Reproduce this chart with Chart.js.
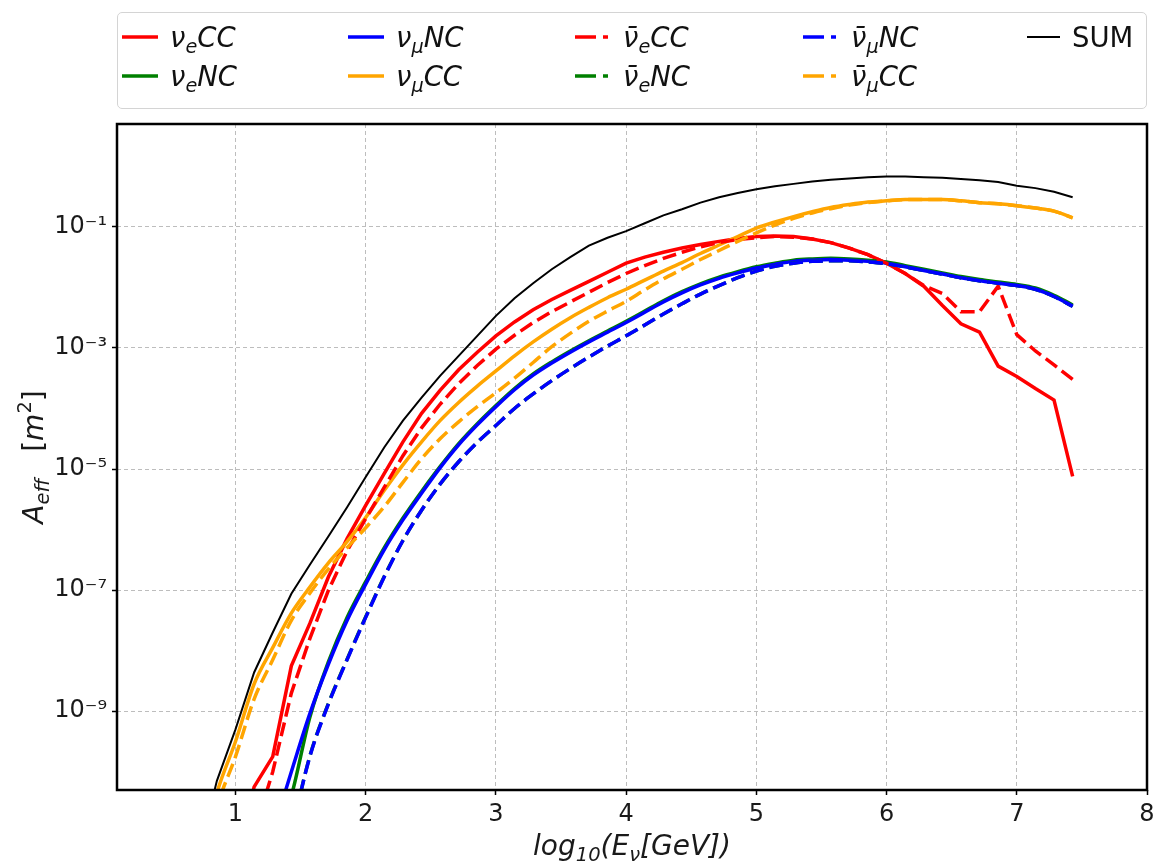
<!DOCTYPE html>
<html>
<head>
<meta charset="utf-8">
<script src="https://cdn.jsdelivr.net/npm/chart.js@4.4.0/dist/chart.umd.min.js"></script>
<style>
  body { margin: 0; background: #fff; font-family: 'DejaVu Sans', sans-serif; }
  #wrap { position: relative; width: 1153px; height: 863px; }
  #legendBox { position: absolute; left: 117px; top: 12px; width: 1030px; height: 97px;
    box-sizing: border-box; border: 1.5px solid #d4d4d4; border-radius: 5px; }
  .item { position: absolute; display: flex; align-items: center; height: 34px;
    font-size: 27.5px; color: #111; white-space: nowrap; }
  .item svg { margin-right: 12px; }
  .math { font-style: italic; }
  .math .s { font-size: 0.7em; position: relative; top: 0.32em; }
</style>
</head>
<body>
<div id="wrap">
  <canvas id="aeff" width="1153" height="863"></canvas>
  <div id="legendBox"></div>
</div>
<script>
// log10(E_nu / GeV) sample points
const logE = [0.714, 0.857, 1.000, 1.143, 1.286, 1.429, 1.571, 1.714, 1.857, 2.000,
  2.143, 2.286, 2.429, 2.571, 2.714, 2.857, 3.000, 3.143, 3.286, 3.429,
  3.571, 3.714, 3.857, 4.000, 4.143, 4.286, 4.429, 4.571, 4.714, 4.857,
  5.000, 5.143, 5.286, 5.429, 5.571, 5.714, 5.857, 6.000, 6.143, 6.286,
  6.429, 6.571, 6.714, 6.857, 7.000, 7.143, 7.286, 7.429];

// log10(A_eff / m^2) per channel
const nueCC = [null, null, -11.5, -10.25, -9.75, -8.25, -7.55, -6.78, -6.15, -5.60,
  -5.07, -4.55, -4.08, -3.70, -3.36, -3.07, -2.80, -2.57, -2.37, -2.20,
  -2.05, -1.90, -1.75, -1.60, -1.50, -1.42, -1.35, -1.29, -1.24, -1.19,
  -1.16, -1.15, -1.16, -1.20, -1.26, -1.35, -1.46, -1.60, -1.77, -1.98,
  -2.30, -2.60, -2.74, -3.30, -3.47, -3.67, -3.86, -5.12];
const nueNC = [null, null, null, null, -11.3, -10.4, -9.10, -8.18, -7.45, -6.86,
  -6.30, -5.81, -5.37, -4.96, -4.58, -4.25, -3.95, -3.67, -3.43, -3.23,
  -3.05, -2.88, -2.72, -2.56, -2.39, -2.22, -2.07, -1.94, -1.83, -1.74,
  -1.66, -1.60, -1.55, -1.53, -1.52, -1.53, -1.55, -1.58, -1.64, -1.70,
  -1.76, -1.82, -1.87, -1.91, -1.95, -2.01, -2.13, -2.29];
const numuNC = [null, null, null, null, -11.0, -10.0, -9.04, -8.22, -7.50, -6.90,
  -6.33, -5.84, -5.40, -4.98, -4.60, -4.27, -3.97, -3.69, -3.45, -3.25,
  -3.07, -2.90, -2.74, -2.58, -2.41, -2.24, -2.09, -1.96, -1.85, -1.76,
  -1.68, -1.62, -1.57, -1.55, -1.54, -1.55, -1.57, -1.60, -1.66, -1.72,
  -1.78, -1.84, -1.89, -1.93, -1.97, -2.03, -2.15, -2.31];
const numuCC = [-11.6, -10.35, -9.50, -8.55, -7.95, -7.38, -6.95, -6.55, -6.20, -5.80,
  -5.35, -4.93, -4.55, -4.20, -3.90, -3.63, -3.38, -3.13, -2.90, -2.69,
  -2.50, -2.33, -2.17, -2.03, -1.88, -1.73, -1.59, -1.44, -1.30, -1.16,
  -1.02, -0.92, -0.83, -0.75, -0.68, -0.63, -0.59, -0.57, -0.55, -0.55,
  -0.55, -0.57, -0.60, -0.62, -0.65, -0.69, -0.74, -0.85];
const nuebarCC = [null, null, null, -11.0, -10.0, -8.70, -7.80, -7.00, -6.35, -5.82,
  -5.30, -4.78, -4.32, -3.93, -3.59, -3.29, -3.02, -2.79, -2.58, -2.40,
  -2.24, -2.08, -1.92, -1.77, -1.64, -1.52, -1.42, -1.33, -1.26, -1.21,
  -1.18, -1.16, -1.17, -1.20, -1.26, -1.35, -1.46, -1.60, -1.77, -1.97,
  -2.10, -2.40, -2.40, -1.98, -2.78, -3.05, -3.28, -3.52];
const nuebarNC = [null, null, null, null, null, -11.0, -9.74, -8.87, -8.14, -7.44,
  -6.77, -6.18, -5.68, -5.25, -4.88, -4.56, -4.28, -4.00, -3.76, -3.54,
  -3.34, -3.15, -2.97, -2.80, -2.62, -2.44, -2.27, -2.11, -1.97, -1.84,
  -1.73, -1.65, -1.60, -1.57, -1.56, -1.56, -1.58, -1.61, -1.66, -1.72,
  -1.78, -1.84, -1.89, -1.93, -1.97, -2.03, -2.15, -2.31];
const numubarNC = [null, null, null, null, null, -11.0, -9.75, -8.88, -8.15, -7.45,
  -6.78, -6.18, -5.68, -5.25, -4.88, -4.56, -4.28, -4.00, -3.76, -3.54,
  -3.34, -3.15, -2.97, -2.80, -2.62, -2.44, -2.27, -2.11, -1.97, -1.84,
  -1.73, -1.65, -1.60, -1.57, -1.56, -1.56, -1.58, -1.61, -1.66, -1.72,
  -1.78, -1.84, -1.89, -1.93, -1.97, -2.03, -2.15, -2.31];
const numubarCC = [-12.0, -10.6, -9.75, -8.80, -8.15, -7.50, -7.05, -6.65, -6.30, -5.97,
  -5.62, -5.22, -4.83, -4.50, -4.22, -3.97, -3.74, -3.50, -3.24, -2.98,
  -2.76, -2.56, -2.39, -2.23, -2.04, -1.86, -1.70, -1.54, -1.39, -1.24,
  -1.10, -0.97, -0.86, -0.77, -0.70, -0.64, -0.60, -0.57, -0.55, -0.55,
  -0.55, -0.57, -0.60, -0.62, -0.65, -0.69, -0.74, -0.85];
const sumAll = [-11.4, -10.15, -9.30, -8.36, -7.70, -7.06, -6.58, -6.11, -5.63, -5.13,
  -4.64, -4.20, -3.82, -3.46, -3.13, -2.80, -2.47, -2.18, -1.93, -1.70,
  -1.50, -1.31, -1.18, -1.07, -0.94, -0.81, -0.71, -0.60, -0.51, -0.44,
  -0.38, -0.33, -0.29, -0.25, -0.22, -0.20, -0.18, -0.17, -0.17, -0.18,
  -0.19, -0.21, -0.23, -0.26, -0.32, -0.36, -0.42, -0.51];

const xTicks = [1, 2, 3, 4, 5, 6, 7, 8];
const yTickExponents = [-9, -7, -5, -3, -1];

// same order as the plot calls; legend fills column by column
const series = [
  { name: 'νeCC',  html: 'ν<span class="s">e</span>CC', vals: nueCC, color: '#ff0000', dashed: false },
  { name: 'νeNC',  html: 'ν<span class="s">e</span>NC', vals: nueNC, color: '#008000', dashed: false, smooth: true },
  { name: 'νμNC',  html: 'ν<span class="s">μ</span>NC', vals: numuNC, color: '#0000ff', dashed: false, smooth: true },
  { name: 'νμCC',  html: 'ν<span class="s">μ</span>CC', vals: numuCC, color: '#ffa500', dashed: false, smooth: true },
  { name: 'ν̄eCC', html: 'ν̄<span class="s">e</span>CC', vals: nuebarCC, color: '#ff0000', dashed: true },
  { name: 'ν̄eNC', html: 'ν̄<span class="s">e</span>NC', vals: nuebarNC, color: '#008000', dashed: true, smooth: true },
  { name: 'ν̄μNC', html: 'ν̄<span class="s">μ</span>NC', vals: numubarNC, color: '#0000ff', dashed: true, smooth: true },
  { name: 'ν̄μCC', html: 'ν̄<span class="s">μ</span>CC', vals: numubarCC, color: '#ffa500', dashed: true, smooth: true },
  { name: 'SUM',   html: 'SUM', vals: sumAll, color: '#000000', dashed: false, thin: true }
];

const FONT = '"DejaVu Sans", sans-serif';
const SUP = { '-': '⁻', '0': '⁰', '1': '¹', '2': '²', '3': '³', '4': '⁴', '5': '⁵', '6': '⁶', '7': '⁷', '8': '⁸', '9': '⁹' };

function richText(ctx, runs, cx, baseY) {
  let total = 0;
  runs.forEach(r => {
    ctx.font = (r.it ? 'italic ' : '') + r.size + 'px ' + FONT;
    r.w = ctx.measureText(r.t).width;
    total += r.w;
  });
  let x = cx - total / 2;
  runs.forEach(r => {
    ctx.font = (r.it ? 'italic ' : '') + r.size + 'px ' + FONT;
    ctx.fillText(r.t, x, baseY + (r.dy || 0));
    x += r.w;
  });
}

const framePlugin = {
  id: 'frame',
  afterDatasetsDraw(chart) {
    const { ctx, chartArea: a } = chart;
    ctx.save();
    ctx.strokeStyle = '#000';
    ctx.lineWidth = 2.5;
    ctx.strokeRect(a.left, a.top, a.right - a.left, a.bottom - a.top);
    ctx.restore();
  }
};

const axisTitles = {
  id: 'axisTitles',
  afterDraw(chart) {
    const { ctx, chartArea: a } = chart;
    ctx.save();
    ctx.fillStyle = '#1a1a1a';
    ctx.textBaseline = 'alphabetic';
    ctx.textAlign = 'left';
    richText(ctx, [
      { t: 'log', size: 28, it: true },
      { t: '10', size: 19.5, it: true, dy: 6 },
      { t: '(E', size: 28, it: true },
      { t: 'ν', size: 19.5, it: true, dy: 6 },
      { t: '[GeV])', size: 28, it: true }
    ], (a.left + a.right) / 2, 855);
    ctx.translate(43, (a.top + a.bottom) / 2);
    ctx.rotate(-Math.PI / 2);
    richText(ctx, [
      { t: 'A', size: 28, it: true },
      { t: 'eff', size: 19.5, it: true, dy: 6 },
      { t: '   [', size: 28 },
      { t: 'm', size: 28, it: true },
      { t: '2', size: 19.5, dy: -12 },
      { t: ']', size: 28 }
    ], 0, 0);
    ctx.restore();
  }
};

const datasets = series.map((s, i) => ({
  label: s.name,
  data: logE.map((x, j) => ({ x: x, y: s.vals[j] === null ? null : Math.pow(10, s.vals[j]) })),
  borderColor: s.color,
  borderWidth: s.thin ? 2 : 3.5,
  borderDash: s.dashed ? [14, 6] : [],
  pointRadius: 0,
  tension: 0,
  cubicInterpolationMode: s.smooth ? 'monotone' : 'default',
  fill: false,
  clip: 0,
  order: series.length - i
}));

const gridStyle = { color: '#bdbdbd', lineWidth: 1, drawTicks: true, tickLength: 5, tickColor: '#000', tickWidth: 1.5 };

new Chart(document.getElementById('aeff').getContext('2d'), {
  type: 'line',
  data: { datasets: datasets },
  options: {
    responsive: false,
    animation: false,
    devicePixelRatio: 1,
    layout: { padding: { left: 0, top: 124, right: 6, bottom: 0 } },
    plugins: { legend: { display: false }, tooltip: { enabled: false } },
    scales: {
      x: {
        type: 'linear', min: 0.09, max: 8,
        afterBuildTicks: s => { s.ticks = xTicks.map(v => ({ value: v })); },
        afterFit: s => { s.height = 73; s.paddingLeft = 0; s.paddingRight = 0; },
        grid: gridStyle,
        border: { display: false, dash: [4, 3] },
        ticks: { font: { family: FONT, size: 24 }, color: '#1a1a1a', padding: 5, maxRotation: 0,
          callback: v => String(v) }
      },
      y: {
        type: 'logarithmic', min: 5e-11, max: 5,
        afterBuildTicks: s => { s.ticks = yTickExponents.map(e => ({ value: Math.pow(10, e) })); },
        afterFit: s => { s.width = 117; s.paddingTop = 0; s.paddingBottom = 0; },
        grid: gridStyle,
        border: { display: false, dash: [4, 3] },
        ticks: { font: { family: FONT, size: 24 }, color: '#1a1a1a', padding: 5,
          callback: v => '10' + String(Math.round(Math.log10(v))).split('').map(c => SUP[c]).join('') }
      }
    }
  },
  plugins: [framePlugin, axisTitles]
});

// legend: 5 columns x 2 rows, filled column-wise like matplotlib ncol=5
const colX = [122, 348, 575, 803, 1027];
const rowY = [37, 76];
const wrap = document.getElementById('wrap');
series.forEach((s, i) => {
  const col = Math.floor(i / 2), row = i % 2;
  const item = document.createElement('div');
  item.className = 'item';
  item.style.left = colX[col] + 'px';
  item.style.top = (rowY[row] - 17) + 'px';
  const len = s.thin ? 33 : 36;
  const dash = s.dashed ? ' stroke-dasharray="21 7 5 40"' : '';
  item.innerHTML = '<svg width="' + len + '" height="8"><line x1="0" y1="4" x2="' + len + '" y2="4" stroke="' +
    s.color + '" stroke-width="' + (s.thin ? 2 : 3.5) + '"' + dash + '/></svg>' +
    '<span class="' + (s.thin ? '' : 'math') + '">' + s.html + '</span>';
  wrap.appendChild(item);
});
</script>
</body>
</html>
